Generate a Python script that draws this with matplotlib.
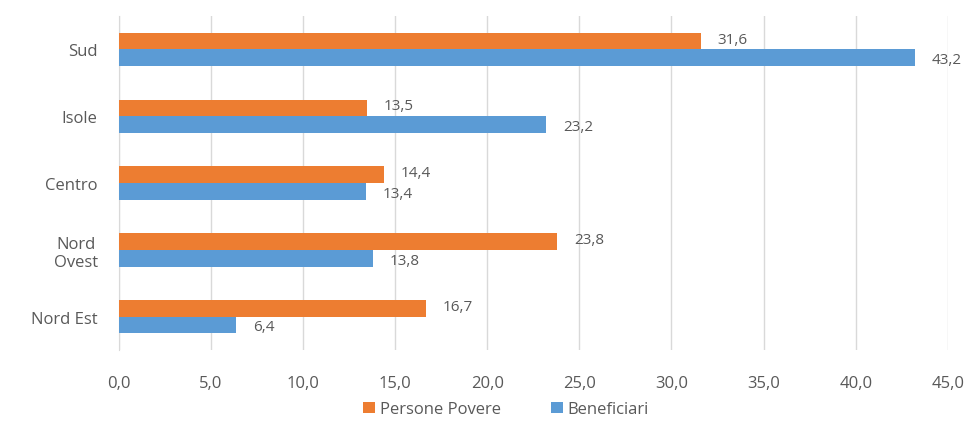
import matplotlib
matplotlib.use("Agg")
import matplotlib.pyplot as plt
import numpy as np

categories = ["Sud", "Isole", "Centro", "Nord\nOvest", "Nord Est"]
persone_povere = [31.6, 13.5, 14.4, 23.8, 16.7]
beneficiari = [43.2, 23.2, 13.4, 13.8, 6.4]
xticks = [0, 5, 10, 15, 20, 25, 30, 35, 40, 45]

plt.rcParams['font.family'] = ['Open Sans', 'DejaVu Sans']
orange = "#ED7D31"
blue = "#5B9BD5"
txt = "#595959"

fig = plt.figure(figsize=(9.73, 4.27), dpi=100)
ax = fig.add_axes([0.1218, 0.178, 0.9743 - 0.1218, 0.782])

y = np.arange(len(categories))
h = 0.25
ax.barh(y - h / 2, persone_povere, height=h, color=orange, label="Persone Povere", zorder=3)
ax.barh(y + h / 2, beneficiari, height=h, color=blue, label="Beneficiari", zorder=3)

def fmt(v):
    return f"{v:.1f}".replace(".", ",")

for yi, v in zip(y - h / 2, persone_povere):
    ax.annotate(fmt(v), (v, yi - 0.03), xytext=(12, 0), textcoords="offset points",
                va="center", ha="left", fontsize=11, color=txt)
for yi, v in zip(y + h / 2, beneficiari):
    ax.annotate(fmt(v), (v, yi + 0.03), xytext=(12, 0), textcoords="offset points",
                va="center", ha="left", fontsize=11, color=txt)

ax.set_xlim(0, 45)
ax.set_ylim(len(categories) - 0.5, -0.5)
ax.set_xticks(xticks)
ax.set_xticklabels([fmt(float(t)) for t in xticks], fontsize=12, color=txt)
ax.set_yticks(y)
ax.set_yticklabels(categories, fontsize=12, color=txt, multialignment="center")
ax.tick_params(length=0)
ax.tick_params(axis="x", pad=18)
ax.tick_params(axis="y", pad=15)
ax.grid(axis="x", color="#D9D9D9", linewidth=1, zorder=0)
for s in ["top", "right", "bottom"]:
    ax.spines[s].set_visible(False)
ax.spines["left"].set_color("#D9D9D9")

leg = fig.legend(loc="lower center", bbox_to_anchor=(0.52, -0.015), ncol=2, frameon=False,
                 fontsize=12, handlelength=0.7, handleheight=0.7, columnspacing=3.0,
                 handletextpad=0.3)
for t in leg.get_texts():
    t.set_color(txt)

fig.savefig("out.png", dpi=100)
